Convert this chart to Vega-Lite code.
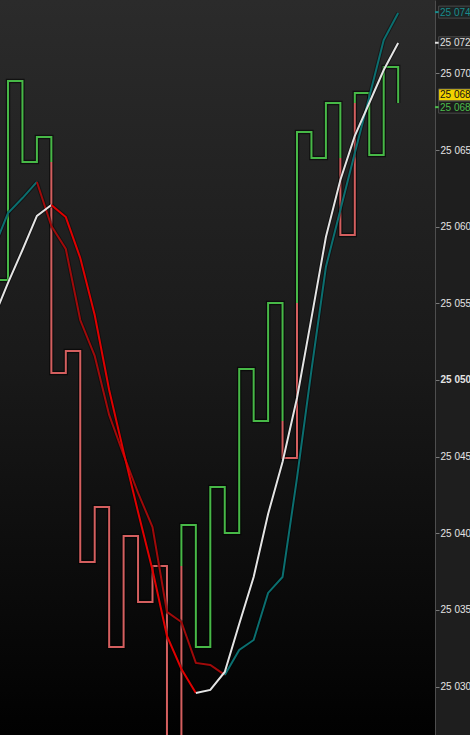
{
  "$schema": "https://vega.github.io/schema/vega-lite/v6.json",
  "width": 435,
  "height": 735,
  "autosize": {"type": "none"},
  "padding": {"left": 0, "top": 0, "right": 35, "bottom": 0},
  "background": "#1e1e1e",
  "config": {
    "view": {"stroke": null},
    "axis": {
      "domainColor": "#4e4e4e",
      "tickColor": "#7a7a7a",
      "tickSize": 4,
      "labelColor": "#e4e4e4",
      "labelFont": "Liberation Sans",
      "labelFontSize": 10,
      "labelPadding": 1,
      "grid": false
    }
  },
  "datasets": {
    "kagi": [
      {"run": 1, "o": 1, "i": -1, "v": 25056.52, "k": "yang"},
      {"run": 1, "o": 2, "i": 0, "v": 25069.50, "k": "yang"},
      {"run": 1, "o": 3, "i": 1, "v": 25064.22, "k": "yang"},
      {"run": 1, "o": 4, "i": 2, "v": 25065.85, "k": "yang"},
      {"run": 1, "o": 5, "i": 3, "v": 25064.22, "k": "yang"},
      {"run": 2, "o": 6, "i": 3, "v": 25064.22, "k": "yin"},
      {"run": 2, "o": 7, "i": 3, "v": 25050.46, "k": "yin"},
      {"run": 2, "o": 8, "i": 4, "v": 25051.89, "k": "yin"},
      {"run": 2, "o": 9, "i": 5, "v": 25038.13, "k": "yin"},
      {"run": 2, "o": 10, "i": 6, "v": 25041.72, "k": "yin"},
      {"run": 2, "o": 11, "i": 7, "v": 25032.58, "k": "yin"},
      {"run": 2, "o": 12, "i": 8, "v": 25039.82, "k": "yin"},
      {"run": 2, "o": 13, "i": 9, "v": 25035.52, "k": "yin"},
      {"run": 2, "o": 14, "i": 10, "v": 25037.87, "k": "yin"},
      {"run": 2, "o": 15, "i": 11, "v": 25025.50, "k": "yin"},
      {"run": 2, "o": 16, "i": 12, "v": 25037.87, "k": "yin"},
      {"run": 3, "o": 17, "i": 12, "v": 25037.87, "k": "yang"},
      {"run": 3, "o": 18, "i": 12, "v": 25040.54, "k": "yang"},
      {"run": 3, "o": 19, "i": 13, "v": 25032.58, "k": "yang"},
      {"run": 3, "o": 20, "i": 14, "v": 25043.02, "k": "yang"},
      {"run": 3, "o": 21, "i": 15, "v": 25040.02, "k": "yang"},
      {"run": 3, "o": 22, "i": 16, "v": 25050.72, "k": "yang"},
      {"run": 3, "o": 23, "i": 17, "v": 25047.33, "k": "yang"},
      {"run": 3, "o": 24, "i": 18, "v": 25055.02, "k": "yang"},
      {"run": 3, "o": 25, "i": 19, "v": 25047.33, "k": "yang"},
      {"run": 4, "o": 26, "i": 19, "v": 25047.33, "k": "yin"},
      {"run": 4, "o": 27, "i": 19, "v": 25044.91, "k": "yin"},
      {"run": 4, "o": 28, "i": 20, "v": 25055.02, "k": "yin"},
      {"run": 5, "o": 29, "i": 20, "v": 25055.02, "k": "yang"},
      {"run": 5, "o": 30, "i": 20, "v": 25066.18, "k": "yang"},
      {"run": 5, "o": 31, "i": 21, "v": 25064.48, "k": "yang"},
      {"run": 5, "o": 32, "i": 22, "v": 25068.07, "k": "yang"},
      {"run": 5, "o": 33, "i": 23, "v": 25064.48, "k": "yang"},
      {"run": 6, "o": 34, "i": 23, "v": 25064.48, "k": "yin"},
      {"run": 6, "o": 35, "i": 23, "v": 25059.46, "k": "yin"},
      {"run": 6, "o": 36, "i": 24, "v": 25068.07, "k": "yin"},
      {"run": 7, "o": 37, "i": 24, "v": 25068.07, "k": "yang"},
      {"run": 7, "o": 38, "i": 24, "v": 25068.72, "k": "yang"},
      {"run": 7, "o": 39, "i": 25, "v": 25064.68, "k": "yang"},
      {"run": 7, "o": 40, "i": 26, "v": 25070.42, "k": "yang"},
      {"run": 7, "o": 41, "i": 27, "v": 25068.07, "k": "yang"}
    ],
    "ma": [
      {"s": "ma2", "run": "m2a", "i": -1, "v": 25058.55, "k": "ma2 up"},
      {"s": "ma2", "run": "m2a", "i": 0, "v": 25060.89, "k": "ma2 up"},
      {"s": "ma2", "run": "m2a", "i": 1, "v": 25061.87, "k": "ma2 up"},
      {"s": "ma2", "run": "m2a", "i": 2, "v": 25062.92, "k": "ma2 up"},
      {"s": "ma2", "run": "m2b", "i": 2, "v": 25062.92, "k": "ma2 down"},
      {"s": "ma2", "run": "m2b", "i": 3, "v": 25060.05, "k": "ma2 down"},
      {"s": "ma2", "run": "m2b", "i": 4, "v": 25058.55, "k": "ma2 down"},
      {"s": "ma2", "run": "m2b", "i": 5, "v": 25053.91, "k": "ma2 down"},
      {"s": "ma2", "run": "m2b", "i": 6, "v": 25051.57, "k": "ma2 down"},
      {"s": "ma2", "run": "m2b", "i": 7, "v": 25047.72, "k": "ma2 down"},
      {"s": "ma2", "run": "m2b", "i": 8, "v": 25045.11, "k": "ma2 down"},
      {"s": "ma2", "run": "m2b", "i": 9, "v": 25042.63, "k": "ma2 down"},
      {"s": "ma2", "run": "m2b", "i": 10, "v": 25040.41, "k": "ma2 down"},
      {"s": "ma2", "run": "m2b", "i": 11, "v": 25034.87, "k": "ma2 down"},
      {"s": "ma2", "run": "m2b", "i": 12, "v": 25034.21, "k": "ma2 down"},
      {"s": "ma2", "run": "m2b", "i": 13, "v": 25031.54, "k": "ma2 down"},
      {"s": "ma2", "run": "m2b", "i": 14, "v": 25031.41, "k": "ma2 down"},
      {"s": "ma2", "run": "m2b", "i": 15, "v": 25030.76, "k": "ma2 down"},
      {"s": "ma2", "run": "m2c", "i": 15, "v": 25030.76, "k": "ma2 up"},
      {"s": "ma2", "run": "m2c", "i": 16, "v": 25032.39, "k": "ma2 up"},
      {"s": "ma2", "run": "m2c", "i": 17, "v": 25033.04, "k": "ma2 up"},
      {"s": "ma2", "run": "m2c", "i": 18, "v": 25036.11, "k": "ma2 up"},
      {"s": "ma2", "run": "m2c", "i": 19, "v": 25037.15, "k": "ma2 up"},
      {"s": "ma2", "run": "m2c", "i": 20, "v": 25043.61, "k": "ma2 up"},
      {"s": "ma2", "run": "m2c", "i": 21, "v": 25050.65, "k": "ma2 up"},
      {"s": "ma2", "run": "m2c", "i": 22, "v": 25057.37, "k": "ma2 up"},
      {"s": "ma2", "run": "m2c", "i": 23, "v": 25061.09, "k": "ma2 up"},
      {"s": "ma2", "run": "m2c", "i": 24, "v": 25064.81, "k": "ma2 up"},
      {"s": "ma2", "run": "m2c", "i": 25, "v": 25068.46, "k": "ma2 up"},
      {"s": "ma2", "run": "m2c", "i": 26, "v": 25072.18, "k": "ma2 up"},
      {"s": "ma2", "run": "m2c", "i": 27, "v": 25073.94, "k": "ma2 up"},
      {"s": "ma1", "run": "m1a", "i": -1, "v": 25054.04, "k": "ma1 up"},
      {"s": "ma1", "run": "m1a", "i": 0, "v": 25056.33, "k": "ma1 up"},
      {"s": "ma1", "run": "m1a", "i": 1, "v": 25058.48, "k": "ma1 up"},
      {"s": "ma1", "run": "m1a", "i": 2, "v": 25060.70, "k": "ma1 up"},
      {"s": "ma1", "run": "m1a", "i": 3, "v": 25061.42, "k": "ma1 up"},
      {"s": "ma1", "run": "m1b", "i": 3, "v": 25061.42, "k": "ma1 down"},
      {"s": "ma1", "run": "m1b", "i": 4, "v": 25060.63, "k": "ma1 down"},
      {"s": "ma1", "run": "m1b", "i": 5, "v": 25057.96, "k": "ma1 down"},
      {"s": "ma1", "run": "m1b", "i": 6, "v": 25054.24, "k": "ma1 down"},
      {"s": "ma1", "run": "m1b", "i": 7, "v": 25049.35, "k": "ma1 down"},
      {"s": "ma1", "run": "m1b", "i": 8, "v": 25045.30, "k": "ma1 down"},
      {"s": "ma1", "run": "m1b", "i": 9, "v": 25041.39, "k": "ma1 down"},
      {"s": "ma1", "run": "m1b", "i": 10, "v": 25037.61, "k": "ma1 down"},
      {"s": "ma1", "run": "m1b", "i": 11, "v": 25033.30, "k": "ma1 down"},
      {"s": "ma1", "run": "m1b", "i": 12, "v": 25031.15, "k": "ma1 down"},
      {"s": "ma1", "run": "m1b", "i": 13, "v": 25029.58, "k": "ma1 down"},
      {"s": "ma1", "run": "m1c", "i": 13, "v": 25029.58, "k": "ma1 up"},
      {"s": "ma1", "run": "m1c", "i": 14, "v": 25029.78, "k": "ma1 up"},
      {"s": "ma1", "run": "m1c", "i": 15, "v": 25030.95, "k": "ma1 up"},
      {"s": "ma1", "run": "m1c", "i": 16, "v": 25034.08, "k": "ma1 up"},
      {"s": "ma1", "run": "m1c", "i": 17, "v": 25037.15, "k": "ma1 up"},
      {"s": "ma1", "run": "m1c", "i": 18, "v": 25041.26, "k": "ma1 up"},
      {"s": "ma1", "run": "m1c", "i": 19, "v": 25044.65, "k": "ma1 up"},
      {"s": "ma1", "run": "m1c", "i": 20, "v": 25048.83, "k": "ma1 up"},
      {"s": "ma1", "run": "m1c", "i": 21, "v": 25054.04, "k": "ma1 up"},
      {"s": "ma1", "run": "m1c", "i": 22, "v": 25059.33, "k": "ma1 up"},
      {"s": "ma1", "run": "m1c", "i": 23, "v": 25063.05, "k": "ma1 up"},
      {"s": "ma1", "run": "m1c", "i": 24, "v": 25065.92, "k": "ma1 up"},
      {"s": "ma1", "run": "m1c", "i": 25, "v": 25068.07, "k": "ma1 up"},
      {"s": "ma1", "run": "m1c", "i": 26, "v": 25070.22, "k": "ma1 up"},
      {"s": "ma1", "run": "m1c", "i": 27, "v": 25071.98, "k": "ma1 up"}
    ],
    "tags": [
      {"lab": "25 074", "v": 25074.0, "kind": "tag ma2"},
      {"lab": "25 072", "v": 25072.0, "kind": "tag ma1"},
      {"lab": "25 068", "v": 25068.6, "kind": "tag last"},
      {"lab": "25 068", "v": 25067.8, "kind": "tag kagi"}
    ]
  },
  "layer": [
    {
      "data": {"values": [{}]},
      "mark": {
        "type": "rect",
        "fill": {
          "gradient": "linear", "x1": 0, "y1": 0, "x2": 0, "y2": 1,
          "stops": [
            {"offset": 0, "color": "#2b2b2b"},
            {"offset": 0.5, "color": "#191919"},
            {"offset": 1, "color": "#010101"}
          ]
        }
      },
      "encoding": {
        "x": {"datum": -0.554, "type": "quantitative", "scale": {"domain": [-0.554, 29.55], "nice": false, "zero": false}, "axis": null},
        "x2": {"datum": 29.55},
        "y": {
          "datum": 25074.79, "type": "quantitative",
          "scale": {"domain": [25026.84, 25074.79], "nice": false, "zero": false},
          "axis": {
            "orient": "right",
            "title": null,
            "values": [25030, 25035, 25040, 25045, 25050, 25055, 25060, 25065, 25070],
            "format": ",d",
            "labelExpr": "replace(datum.label, ',', ' ')",
            "labelFontWeight": {"condition": {"test": "datum.value == 25050", "value": "bold"}, "value": "normal"}
          }
        },
        "y2": {"datum": 25026.84}
      }
    },
    {
      "data": {"name": "kagi"},
      "mark": {"type": "line", "interpolate": "step-after", "strokeWidth": 4.5, "color": "#000000", "opacity": 0.55, "strokeJoin": "miter", "clip": true},
      "encoding": {
        "x": {"field": "i", "type": "quantitative", "scale": {"domain": [-0.554, 29.55], "nice": false, "zero": false}, "axis": null},
        "y": {"field": "v", "type": "quantitative", "scale": {"domain": [25026.84, 25074.79], "nice": false, "zero": false}},
        "detail": {"field": "run", "type": "nominal"},
        "order": {"field": "o", "type": "quantitative"}
      }
    },
    {
      "data": {"name": "kagi"},
      "mark": {"type": "line", "interpolate": "step-after", "strokeWidth": 2, "strokeJoin": "miter", "clip": true},
      "encoding": {
        "x": {"field": "i", "type": "quantitative", "scale": {"domain": [-0.554, 29.55], "nice": false, "zero": false}, "axis": null},
        "y": {"field": "v", "type": "quantitative", "scale": {"domain": [25026.84, 25074.79], "nice": false, "zero": false}},
        "color": {
          "field": "k", "type": "nominal", "legend": null,
          "scale": {
            "domain": ["yang", "yin", "ma1 up", "ma1 down", "ma2 up", "ma2 down", "tag ma2", "tag ma1", "tag last", "tag kagi"],
            "range": ["#47b847", "#d45f5f", "#e4e4e4", "#e00000", "#0b6f70", "#a00a0a", "#1a8c8c", "#e0e0e0", "#111111", "#4cbb4c"]
          }
        },
        "detail": {"field": "run", "type": "nominal"},
        "order": {"field": "o", "type": "quantitative"}
      }
    },
    {
      "data": {"name": "ma"},
      "mark": {"type": "line", "strokeWidth": 4, "color": "#000000", "opacity": 0.4, "clip": true},
      "encoding": {
        "x": {"field": "i", "type": "quantitative", "scale": {"domain": [-0.554, 29.55], "nice": false, "zero": false}, "axis": null},
        "y": {"field": "v", "type": "quantitative", "scale": {"domain": [25026.84, 25074.79], "nice": false, "zero": false}},
        "detail": {"field": "run", "type": "nominal"}
      }
    },
    {
      "data": {"name": "ma"},
      "transform": [{"filter": "datum.s == 'ma2'"}],
      "mark": {"type": "line", "strokeWidth": 2, "clip": true},
      "encoding": {
        "x": {"field": "i", "type": "quantitative", "scale": {"domain": [-0.554, 29.55], "nice": false, "zero": false}, "axis": null},
        "y": {"field": "v", "type": "quantitative", "scale": {"domain": [25026.84, 25074.79], "nice": false, "zero": false}},
        "color": {
          "field": "k", "type": "nominal", "legend": null,
          "scale": {
            "domain": ["yang", "yin", "ma1 up", "ma1 down", "ma2 up", "ma2 down", "tag ma2", "tag ma1", "tag last", "tag kagi"],
            "range": ["#47b847", "#d45f5f", "#e4e4e4", "#e00000", "#0b6f70", "#a00a0a", "#1a8c8c", "#e0e0e0", "#111111", "#4cbb4c"]
          }
        },
        "detail": {"field": "run", "type": "nominal"}
      }
    },
    {
      "data": {"name": "ma"},
      "transform": [{"filter": "datum.s == 'ma1'"}],
      "mark": {"type": "line", "strokeWidth": 2, "clip": true},
      "encoding": {
        "x": {"field": "i", "type": "quantitative", "scale": {"domain": [-0.554, 29.55], "nice": false, "zero": false}, "axis": null},
        "y": {"field": "v", "type": "quantitative", "scale": {"domain": [25026.84, 25074.79], "nice": false, "zero": false}},
        "color": {
          "field": "k", "type": "nominal", "legend": null,
          "scale": {
            "domain": ["yang", "yin", "ma1 up", "ma1 down", "ma2 up", "ma2 down", "tag ma2", "tag ma1", "tag last", "tag kagi"],
            "range": ["#47b847", "#d45f5f", "#e4e4e4", "#e00000", "#0b6f70", "#a00a0a", "#1a8c8c", "#e0e0e0", "#111111", "#4cbb4c"]
          }
        },
        "detail": {"field": "run", "type": "nominal"}
      }
    },
    {
      "data": {"name": "tags"},
      "mark": {"type": "rect", "height": 12, "stroke": "#4a4a4a", "strokeWidth": 1},
      "encoding": {
        "x": {"datum": 29.8, "type": "quantitative", "scale": {"domain": [-0.554, 29.55], "nice": false, "zero": false}, "axis": null},
        "x2": {"datum": 32.5},
        "y": {"field": "v", "type": "quantitative", "scale": {"domain": [25026.84, 25074.79], "nice": false, "zero": false}},
        "fill": {
          "field": "kind", "type": "nominal", "legend": null,
          "scale": {"domain": ["tag ma2", "tag ma1", "tag last", "tag kagi"], "range": ["#1d2424", "#262626", "#f2d300", "#1b1b1b"]}
        }
      }
    },
    {
      "data": {"name": "tags"},
      "transform": [{"filter": "datum.kind != 'tag last'"}],
      "mark": {"type": "rule", "strokeWidth": 2},
      "encoding": {
        "x": {"datum": 29.55, "type": "quantitative", "scale": {"domain": [-0.554, 29.55], "nice": false, "zero": false}, "axis": null},
        "x2": {"datum": 29.8},
        "y": {"field": "v", "type": "quantitative", "scale": {"domain": [25026.84, 25074.79], "nice": false, "zero": false}},
        "color": {
          "field": "kind", "type": "nominal", "legend": null,
          "scale": {
            "domain": ["yang", "yin", "ma1 up", "ma1 down", "ma2 up", "ma2 down", "tag ma2", "tag ma1", "tag last", "tag kagi"],
            "range": ["#47b847", "#d45f5f", "#e4e4e4", "#e00000", "#0b6f70", "#a00a0a", "#1a8c8c", "#e0e0e0", "#111111", "#4cbb4c"]
          }
        }
      }
    },
    {
      "data": {"name": "tags"},
      "mark": {"type": "text", "align": "left", "baseline": "middle", "font": "Liberation Sans", "fontSize": 10, "dy": 0.5},
      "encoding": {
        "x": {"datum": 29.9, "type": "quantitative", "scale": {"domain": [-0.554, 29.55], "nice": false, "zero": false}, "axis": null},
        "y": {"field": "v", "type": "quantitative", "scale": {"domain": [25026.84, 25074.79], "nice": false, "zero": false}},
        "text": {"field": "lab"},
        "color": {
          "field": "kind", "type": "nominal", "legend": null,
          "scale": {
            "domain": ["yang", "yin", "ma1 up", "ma1 down", "ma2 up", "ma2 down", "tag ma2", "tag ma1", "tag last", "tag kagi"],
            "range": ["#47b847", "#d45f5f", "#e4e4e4", "#e00000", "#0b6f70", "#a00a0a", "#1a8c8c", "#e0e0e0", "#111111", "#4cbb4c"]
          }
        }
      }
    }
  ]
}
